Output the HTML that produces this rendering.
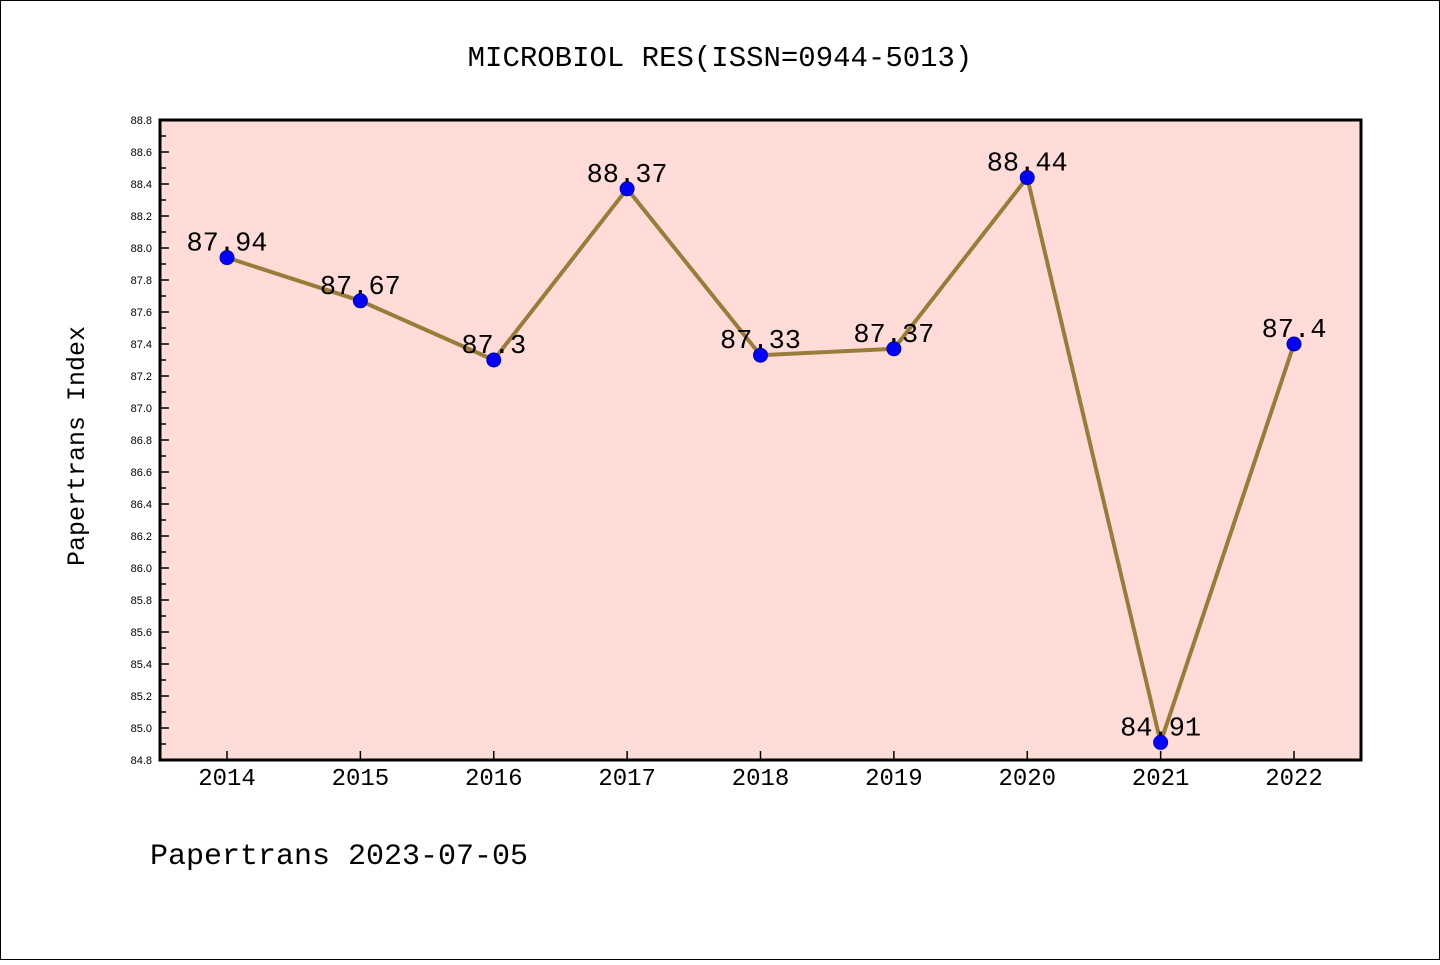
<!DOCTYPE html>
<html><head><meta charset="utf-8"><style>
body{margin:0;background:#fff}
svg text{font-family:"Liberation Mono","WenQuanYi Zen Hei",monospace}
svg text.s{font-family:"Liberation Sans",sans-serif}
</style></head><body>
<svg id="c" width="1440" height="960" xmlns="http://www.w3.org/2000/svg">
<rect x="0.5" y="0.5" width="1439" height="959" fill="#fff" stroke="#000"/>
<text x="720" y="66" font-size="29" text-anchor="middle">MICROBIOL RES(ISSN=0944-5013)</text>
<rect x="160" y="120" width="1201" height="640" fill="#ffdcd8"/>
<g id="ticks"></g>
<g id="series"></g>
<rect x="160" y="120" width="1201" height="640" fill="none" stroke="#000" stroke-width="3"/>
<text transform="translate(84,446) rotate(-90)" font-size="25" text-anchor="middle">Papertrans Index</text>
<text x="150" y="864" font-size="30">Papertrans 2023-07-05</text>
</svg>
<script>
const years=["2014","2015","2016","2017","2018","2019","2020","2021","2022"];
const values=[87.94,87.67,87.3,88.37,87.33,87.37,88.44,84.91,87.4];
const labels=["87.94","87.67","87.3","88.37","87.33","87.37","88.44","84.91","87.4"];
const yTicks=["84.8","85.0","85.2","85.4","85.6","85.8","86.0","86.2","86.4","86.6","86.8","87.0","87.2","87.4","87.6","87.8","88.0","88.2","88.4","88.6","88.8"];
const yMin=84.8,yMax=88.8;
const ns="http://www.w3.org/2000/svg";
const X=i=>227+i*(1294-227)/(years.length-1);
const Y=v=>760-(v-yMin)/(yMax-yMin)*640;
const tg=document.getElementById('ticks'),sg=document.getElementById('series');
function mk(t,a,p){const e=document.createElementNS(ns,t);for(const k in a)e.setAttribute(k,a[k]);p.appendChild(e);return e;}
yTicks.forEach(t=>{const v=parseFloat(t),y=Y(v);
 const l=mk('line',{x1:160,x2:169,y1:y,y2:y,stroke:'#000','stroke-width':1.5},tg);
 
 
 const tx=mk('text',{x:152,y:y+4,'font-size':11,'text-anchor':'end','class':'s'},tg);tx.textContent=t;
 
 
 if(v<yMax-0.01){const ym=Y(v+0.1);const m=mk('line',{x1:160,x2:166,y1:ym,y2:ym,stroke:'#000','stroke-width':1.5},tg);
 
 }
});
years.forEach((yr,i)=>{const x=X(i);
 const l=mk('line',{x1:x,x2:x,y1:760,y2:751,stroke:'#000','stroke-width':1.5},tg);
 
 
 const t=mk('text',{x:x,y:785,'font-size':24,'text-anchor':'middle'},tg);t.textContent=yr;
 
 
});
const pl=mk('polyline',{points:values.map((v,i)=>X(i)+','+Y(v)).join(' '),fill:'none',stroke:'#9a7c3a','stroke-width':4,'stroke-linejoin':'round'},sg);


values.forEach((v,i)=>{
 const c=mk('circle',{cx:X(i),cy:Y(v),r:7,fill:'#0000ff',stroke:'#0000aa','stroke-width':1},sg);
 
 
 const t=mk('text',{x:X(i),y:Y(v)-7,'font-size':27,'text-anchor':'middle'},sg);t.textContent=labels[i];
 
 
});
</script>
</body></html>
